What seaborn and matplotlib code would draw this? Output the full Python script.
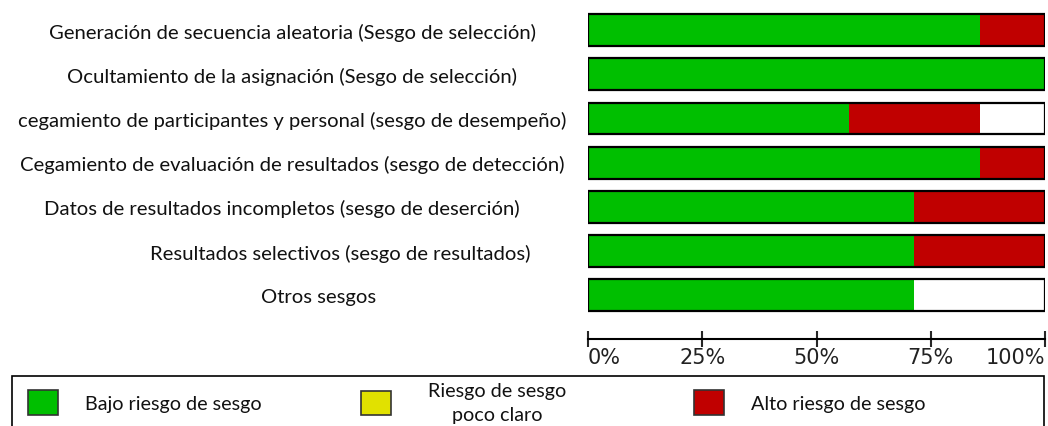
import matplotlib
matplotlib.use("Agg")
import matplotlib.pyplot as plt
import matplotlib.transforms as mtrans
from matplotlib.patches import Patch, Rectangle
import seaborn as sb
import numpy as np

# Dominios de riesgo de sesgo
dominios = [
    'Generación de secuencia aleatoria (Sesgo de selección)',
    'Ocultamiento de la asignación (Sesgo de selección)',
    'cegamiento de participantes y personal (sesgo de desempeño)',
    'Cegamiento de evaluación de resultados (sesgo de detección)',
    'Datos de resultados incompletos (sesgo de deserción)',
    'Resultados selectivos (sesgo de resultados)',
    'Otros sesgos',
]

# Porcentajes (7 estudios)
bajo = [85.7, 100.0, 57.1, 85.7, 71.4, 71.4, 71.4]
alto = [14.3, 0.0, 28.6, 14.3, 28.6, 28.6, 0.0]
total = [100.0] * len(dominios)

ticks = [0, 25, 50, 75, 100]
tick_labels = ['0%', '25%', '50%', '75%', '100%']

leyenda = ['Bajo riesgo de sesgo', 'Riesgo de sesgo\npoco claro', 'Alto riesgo de sesgo']

verde = '#00BF00'
amarillo = '#E1E100'
rojo = '#C00000'

sb.set_style('white')
plt.rcParams['font.family'] = ['Lato', 'DejaVu Sans']

fig = plt.figure(figsize=(10.48, 4.27), dpi=100)
ax = fig.add_axes([588 / 1048, 87 / 427, 457 / 1048, 331 / 427])

acum = np.array(bajo) + np.array(alto)
sb.barplot(x=total, y=dominios, orient='h', color='white', width=0.72, saturation=1, ax=ax)
sb.barplot(x=acum, y=dominios, orient='h', color=rojo, width=0.72, saturation=1, linewidth=0, ax=ax)
sb.barplot(x=bajo, y=dominios, orient='h', color=verde, width=0.72, saturation=1, linewidth=0, ax=ax)
sb.barplot(x=total, y=dominios, orient='h', color='black', fill=False, width=0.72, linewidth=1.6, ax=ax)

ax.set_xlim(0, 100)
ax.set_ylim(6.99, -0.5)
ax.set_xlabel('')
ax.set_ylabel('')
for s in ['top', 'right', 'left']:
    ax.spines[s].set_visible(False)
ax.spines['bottom'].set_linewidth(1.5)
ax.spines['bottom'].set_color('black')

ax.set_xticks(ticks)
ax.set_xticklabels(tick_labels, fontsize=15, family='DejaVu Sans', color='#222222')
ax.tick_params(axis='x', direction='inout', length=12, width=1.5, pad=0, bottom=True)
xt = ax.get_xticklabels()
xt[0].set_ha('left')
xt[-1].set_ha('right')

ax.set_yticks(range(len(dominios)))
ax.set_yticklabels(dominios, fontsize=14.6, ha='center', color='#111111')
ax.tick_params(axis='y', length=0, pad=213)
# las dos últimas etiquetas están algo desplazadas a la derecha en el original
yt = ax.get_yticklabels()
for lbl, dx in [(yt[4], -10), (yt[5], 48), (yt[6], 26)]:
    lbl.set_transform(lbl.get_transform() + mtrans.ScaledTranslation(dx / 100, 0, fig.dpi_scale_trans))

# Leyenda: marco y tres entradas
fig.add_artist(Rectangle((12 / 1048, -0.05), 1032 / 1048, (0.05 + 50 / 427),
                         transform=fig.transFigure, facecolor='none', edgecolor='black', linewidth=1.2))
colores = [verde, amarillo, rojo]
x_leg = [28, 361, 694]
pads = [1.4, 1.9, 1.4]
for lab, c, x0, tp in zip(leyenda, colores, x_leg, pads):
    leg = fig.legend([Patch(facecolor=c, edgecolor='#333333', linewidth=1.2)], [lab],
                     loc='center left', bbox_to_anchor=(x0 / 1048, 23.5 / 427), frameon=False,
                     fontsize=14.2, handlelength=1.5, handleheight=1.5, handletextpad=tp,
                     borderpad=0, borderaxespad=0)
    for t in leg.get_texts():
        t.set_multialignment('center')
        t.set_linespacing(1.45)
        t.set_color('#111111')

fig.savefig('out.png', dpi=100)
